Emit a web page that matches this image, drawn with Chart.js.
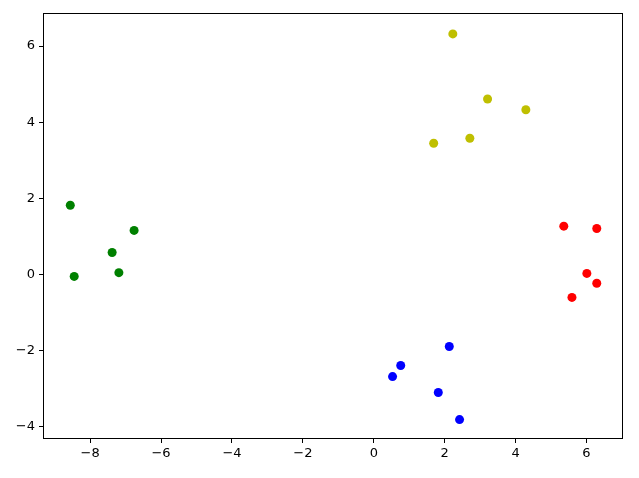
<!DOCTYPE html>
<html>
<head>
<meta charset="utf-8">
<script src="https://cdn.jsdelivr.net/npm/chart.js@4/dist/chart.umd.min.js"></script>
<style>
html,body{margin:0;padding:0;background:#fff;}
#wrap{width:639px;height:478px;position:relative;}
</style>
</head>
<body>
<div id="wrap"><canvas id="c" width="639" height="478"></canvas></div>
<script>
const yellowX = [2.23, 3.21, 4.29, 2.71, 1.69];
const yellowY = [6.32, 4.61, 4.33, 3.58, 3.45];
const greenX = [-8.56, -6.76, -7.38, -7.19, -8.45];
const greenY = [1.82, 1.16, 0.58, 0.05, -0.05];
const redX = [5.36, 6.29, 6.01, 6.29, 5.59];
const redY = [1.27, 1.21, 0.03, -0.23, -0.60];
const blueX = [2.13, 0.76, 0.53, 1.82, 2.42];
const blueY = [-1.89, -2.39, -2.68, -3.10, -3.81];
const xTicks = [-8, -6, -4, -2, 0, 2, 4, 6];
const yTicks = [-4, -2, 0, 2, 4, 6];

function pts(xs, ys){ return xs.map((x,i)=>({x:x, y:ys[i]})); }
function ds(xs, ys, color){
  return {data: pts(xs, ys), backgroundColor: color, borderColor: color, pointRadius: 4.5, pointHoverRadius: 4.5, borderWidth: 0};
}
const fmt = v => String(v).replace('-', '\u2212');

const frame = {
  id: 'frame',
  afterDraw(chart){
    const a = chart.chartArea, ctx = chart.ctx;
    ctx.save();
    ctx.strokeStyle = '#000';
    ctx.lineWidth = 1;
    ctx.strokeRect(Math.round(a.left)+0.5, Math.round(a.top)+0.5, Math.round(a.right-a.left)-1, Math.round(a.bottom-a.top)-1);
    ctx.restore();
  }
};

new Chart(document.getElementById('c'), {
  type: 'scatter',
  data: { datasets: [
    ds(yellowX, yellowY, '#bfbf00'),
    ds(greenX, greenY, '#008000'),
    ds(redX, redY, '#ff0000'),
    ds(blueX, blueY, '#0000ff')
  ]},
  options: {
    responsive: false,
    animation: false,
    events: [],
    layout: { padding: { top: 13, right: 16, left: 0, bottom: 0 } },
    plugins: { legend: { display: false }, tooltip: { enabled: false } },
    scales: {
      x: {
        type: 'linear', min: -9.33, max: 7.03,
        afterBuildTicks: s => { s.ticks = xTicks.map(v => ({value: v})); },
        afterFit: s => { s.height = 39; },
        border: { display: false },
        grid: { drawOnChartArea: false, tickLength: 4, color: '#000', tickWidth: 1 },
        ticks: { color: '#000', font: { family: 'DejaVu Sans', size: 13 }, padding: 3, maxRotation: 0, callback: v => fmt(v) }
      },
      y: {
        type: 'linear', min: -4.32, max: 6.87,
        afterBuildTicks: s => { s.ticks = yTicks.map(v => ({value: v})); },
        afterFit: s => { s.width = 43; },
        border: { display: false },
        grid: { drawOnChartArea: false, tickLength: 4, color: '#000', tickWidth: 1 },
        ticks: { color: '#000', font: { family: 'DejaVu Sans', size: 13 }, padding: 4, callback: v => fmt(v) }
      }
    }
  },
  plugins: [frame]
});
</script>
</body>
</html>
